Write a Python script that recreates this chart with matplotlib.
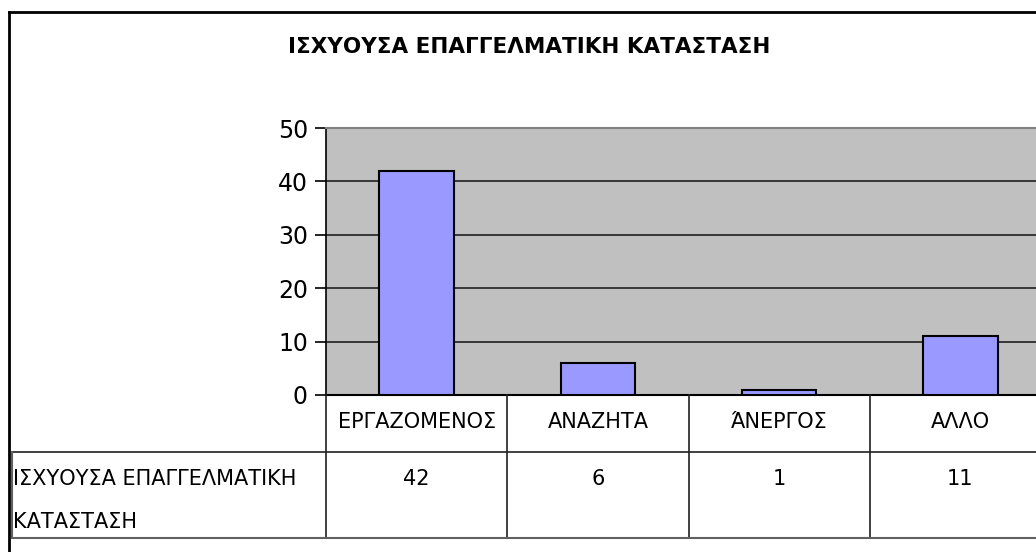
import matplotlib
matplotlib.use("Agg")
import matplotlib.pyplot as plt
from matplotlib.lines import Line2D
from matplotlib.transforms import blended_transform_factory

# data
categories = ["ΕΡΓΑΖΟΜΕΝΟΣ", "ΑΝΑΖΗΤΑ", "ΆΝΕΡΓΟΣ", "ΑΛΛΟ"]
values = [42, 6, 1, 11]
series_name = "ΙΣΧΥΟΥΣΑ ΕΠΑΓΓΕΛΜΑΤΙΚΗ\nΚΑΤΑΣΤΑΣΗ"
title = "ΙΣΧΥΟΥΣΑ ΕΠΑΓΓΕΛΜΑΤΙΚΗ ΚΑΤΑΣΤΑΣΗ"
yticks = [0, 10, 20, 30, 40, 50]

plt.rcParams['font.family'] = ['DejaVu Sans']

W, H = 1036, 552
fig = plt.figure(figsize=(W/100, H/100), dpi=100)

def fx(px):
    return px / W

def fy(py):
    return 1 - py / H

# plot area in pixels (right edge runs past the picture)
left, right, top, bottom = 326, 1051, 128, 395
ax = fig.add_axes([fx(left), fy(bottom), fx(right - left), (bottom - top) / H])
ax.set_facecolor("#C0C0C0")

x = list(range(len(categories)))
ax.bar(x, values, width=0.41, color="#9999FF", edgecolor="black", linewidth=1.5, zorder=3)
ax.set_xlim(-0.5, len(categories) - 0.5)
ax.set_ylim(0, 50)
ax.set_yticks(yticks)
ax.set_yticklabels([str(t) for t in yticks], fontsize=17)
ax.yaxis.grid(True, color="#202020", linewidth=1.2, zorder=1)
ax.set_xticks([])
ax.tick_params(axis="y", length=8, width=1.2, direction="out", pad=5)
for s in ["top", "right"]:
    ax.spines[s].set_color("#808080")
    ax.spines[s].set_linewidth(1.5)
ax.spines["left"].set_linewidth(1.2)
ax.spines["bottom"].set_linewidth(1.5)

# title
fig.text(fx(529), fy(47), title, ha="center", va="center", fontsize=15.5, fontweight="bold")

# data table under the axis
tr = blended_transform_factory(ax.transData, fig.transFigure)
row1, row2, tbot = 395, 452, 538
lc = "#202020"
for b in [i - 0.5 for i in range(len(categories) + 1)]:
    fig.add_artist(Line2D([b, b], [fy(row1), fy(tbot)], transform=tr, color=lc, lw=1.2))
fig.add_artist(Line2D([fx(12), 1], [fy(row2), fy(row2)], transform=fig.transFigure, color=lc, lw=1.2))
fig.add_artist(Line2D([fx(12), 1], [fy(tbot), fy(tbot)], transform=fig.transFigure, color="#606060", lw=1.5))
fig.add_artist(Line2D([fx(12), fx(12)], [fy(row2), fy(tbot)], transform=fig.transFigure, color="#606060", lw=1.5))

fs = 15
for i, c in enumerate(categories):
    fig.text(i, fy(422), c, transform=tr, ha="center", va="center", fontsize=fs)
for i, v in enumerate(values):
    fig.text(i, fy(479), str(v), transform=tr, ha="center", va="center", fontsize=fs)
fig.text(fx(13), fy(479), series_name.split("\n")[0], ha="left", va="center", fontsize=fs)
fig.text(fx(13), fy(522), series_name.split("\n")[1], ha="left", va="center", fontsize=fs)

# chart area border (only top and left visible)
fig.add_artist(Line2D([fx(9), 1], [fy(12), fy(12)], transform=fig.transFigure, color="black", lw=2))
fig.add_artist(Line2D([fx(9), fx(9)], [fy(12), 0], transform=fig.transFigure, color="black", lw=2))

fig.savefig("out.png", dpi=100)
